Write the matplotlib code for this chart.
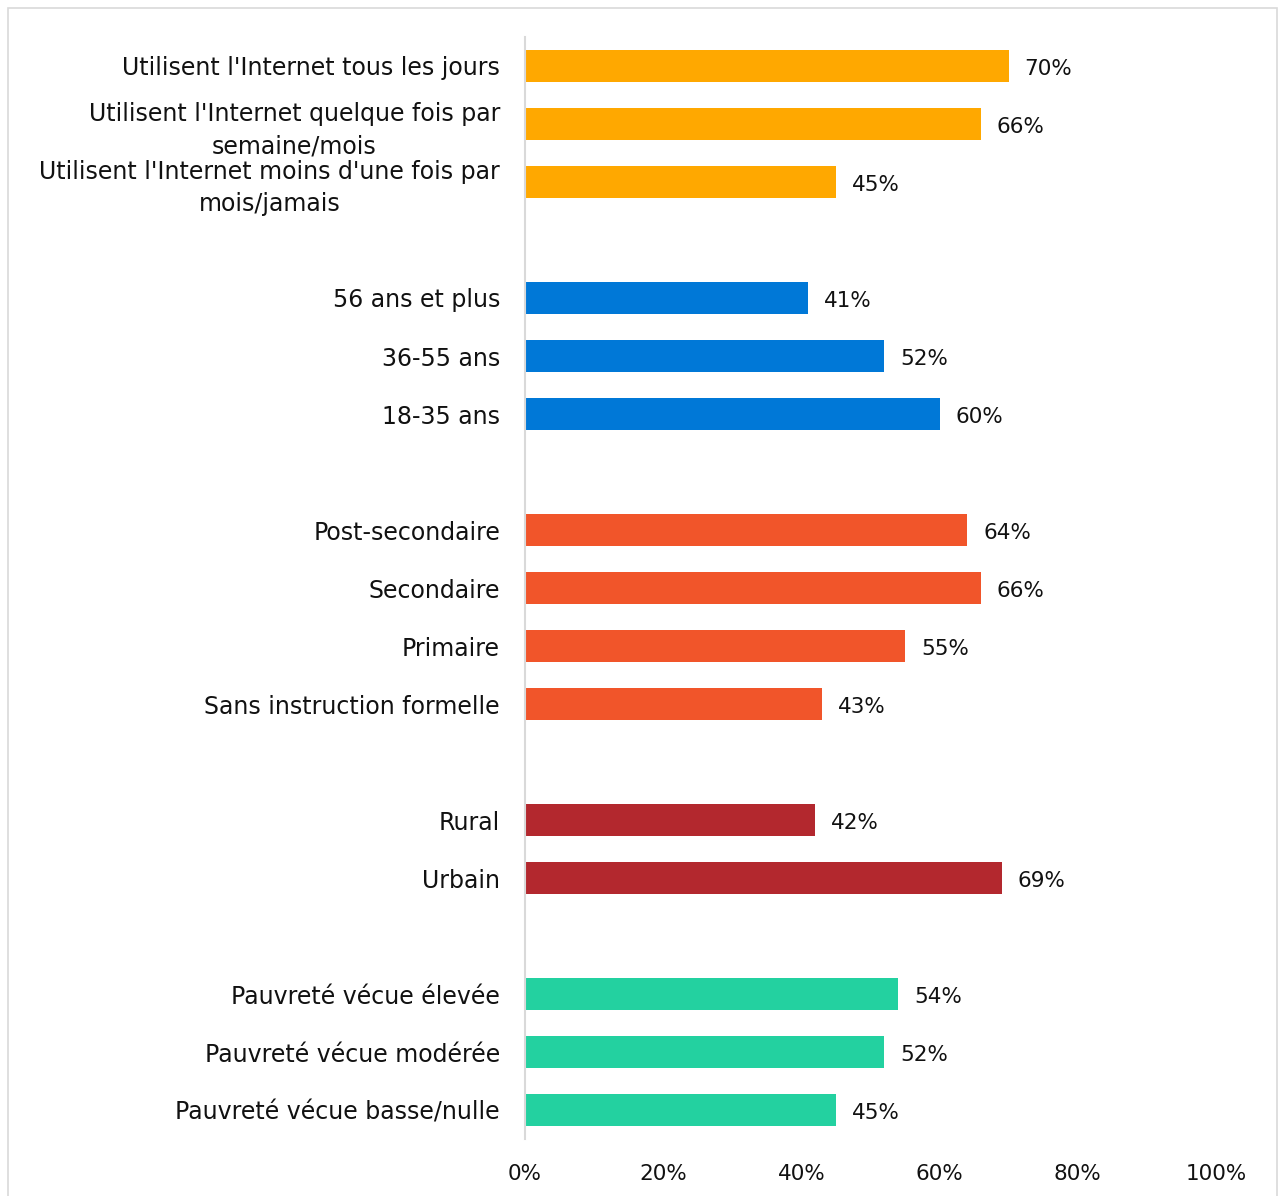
import matplotlib.pyplot as plt
from matplotlib.patches import Rectangle

plt.rcParams['font.family'] = ['DejaVu Sans']

# data, top to bottom; None = blank gap between groups
labels = [
    "Utilisent l'Internet tous les jours",
    "Utilisent l'Internet quelque fois par\nsemaine/mois",
    "Utilisent l'Internet moins d'une fois par\nmois/jamais",
    None,
    "56 ans et plus",
    "36-55 ans",
    "18-35 ans",
    None,
    "Post-secondaire",
    "Secondaire",
    "Primaire",
    "Sans instruction formelle",
    None,
    "Rural",
    "Urbain",
    None,
    "Pauvreté vécue élevée",
    "Pauvreté vécue modérée",
    "Pauvreté vécue basse/nulle",
]
values = [70, 66, 45, None, 41, 52, 60, None, 64, 66, 55, 43, None, 42, 69, None, 54, 52, 45]
groups = [0, 0, 0, None, 1, 1, 1, None, 2, 2, 2, 2, None, 3, 3, None, 4, 4, 4]
group_colors = ['#FFA800', '#0078D7', '#F1552A', '#B3282E', '#23D1A0']
xticks = [0, 20, 40, 60, 80, 100]

fig = plt.figure(figsize=(12.79, 11.96), dpi=100)
ax = fig.add_axes([525 / 1279, 1 - 1139 / 1196, 691 / 1279, 1102 / 1196])

n = len(labels)
ypos = list(range(n))
for y, v, g in zip(ypos, values, groups):
    if v is None:
        continue
    ax.barh(y, v, height=0.55, color=group_colors[g])
    ax.text(v + 2.3, y + 0.05, f"{v}%", va='center', ha='left', fontsize=15.5, color='#111111')

ax.set_ylim(n - 0.5, -0.5)
ax.set_xlim(0, 100)
tick_y = [y for y, l in zip(ypos, labels) if l is not None]
tick_l = [l for l in labels if l is not None]
ax.set_yticks(tick_y)
ax.set_yticklabels(tick_l, fontsize=17, color='#111111', linespacing=1.4)
for t in ax.get_yticklabels():
    t.set_multialignment('center')
ax.set_xticks(xticks)
ax.set_xticklabels([f"{x}%" for x in xticks], fontsize=15.5, color='#111111')
ax.tick_params(axis='both', length=0)
ax.tick_params(axis='y', pad=18)
ax.tick_params(axis='x', pad=18)

for s in ['top', 'right', 'bottom']:
    ax.spines[s].set_visible(False)
ax.spines['left'].set_color('#D9D9D9')
ax.spines['left'].set_linewidth(1.5)

fig.patches.append(Rectangle((8 / 1279, -0.01), 1269 / 1279, 1 - 8 / 1196 + 0.01,
                             transform=fig.transFigure, fill=False,
                             edgecolor='#D9D9D9', linewidth=1.2))

fig.savefig('out.png', dpi=100)
